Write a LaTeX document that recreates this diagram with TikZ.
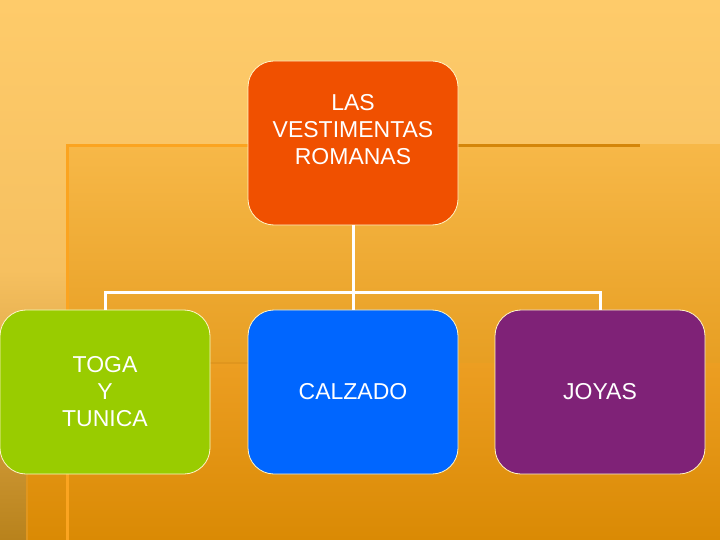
\documentclass[tikz,border=0pt]{standalone}
\usepackage{fontspec}
\setmainfont{Liberation Sans}
\usepackage{tikz}
\usepackage{xcolor}
\usetikzlibrary{positioning,calc}
\definecolor{skytop}{HTML}{FECB6A}
\definecolor{skymid}{HTML}{F6C060}
\definecolor{skylow}{HTML}{B8821C}
\definecolor{paneltop}{HTML}{F7B848}
\definecolor{panellow}{HTML}{DA8A04}
\definecolor{lowtop}{HTML}{EC9E22}
\definecolor{litline}{HTML}{FBA420}
\definecolor{darkline}{HTML}{D4860A}
\definecolor{midline}{HTML}{E0961E}
\definecolor{rimcol}{HTML}{FFF6C8}
\definecolor{rootred}{HTML}{F05000}
\definecolor{togagreen}{HTML}{99CC00}
\definecolor{shoeblue}{HTML}{0066FF}
\definecolor{jewelpurple}{HTML}{7F2277}
\tikzset{
  tile/.style={draw=rimcol,line width=0.8bp,rounded corners=26bp,
               minimum width=210bp,minimum height=164bp,inner sep=0pt,
               align=center,text=white,
               font=\fontsize{23bp}{27bp}\selectfont},
  roottile/.style={tile,fill=rootred},
  togatile/.style={tile,fill=togagreen},
  shoetile/.style={tile,fill=shoeblue},
  jeweltile/.style={tile,fill=jewelpurple},
  link/.style={draw=white,line width=3bp}
}
\begin{document}
\begin{tikzpicture}[x=1bp,y=-1bp]
    \path[use as bounding box] (0,0) rectangle (720,540);

    % slide background
    \shade[top color=skytop,bottom color=skylow,middle color=skymid]
      (0,0) rectangle (720,540);
    \shade[top color=paneltop,bottom color=panellow] (66,145) rectangle (720,540);
    \shade[top color=lowtop,bottom color=panellow] (26,363) rectangle (720,540);
    \draw[litline,line width=3bp] (67.5,540) -- (67.5,146) -- (353,146);
    \draw[darkline,line width=3bp] (353,146) -- (640,146);
    \draw[midline,line width=2bp] (27,540) -- (27,363) -- (353,363);

    % chart
    \node[roottile] (root) at (353,143) {LAS\\VESTIMENTAS\\ROMANAS\\~};
    \node[togatile] (toga) at (105,392) {TOGA\\Y\\TUNICA};
    \node[shoetile] (calzado) at (353,392) {CALZADO};
    \node[jeweltile] (joyas) at (600,392) {JOYAS};

    \coordinate (bar) at (353,292);
    \draw[link] (root.south) -- (calzado.north);
    \draw[link] (toga.north) |- (bar) -| (joyas.north);
  \end{tikzpicture}
\end{document}
